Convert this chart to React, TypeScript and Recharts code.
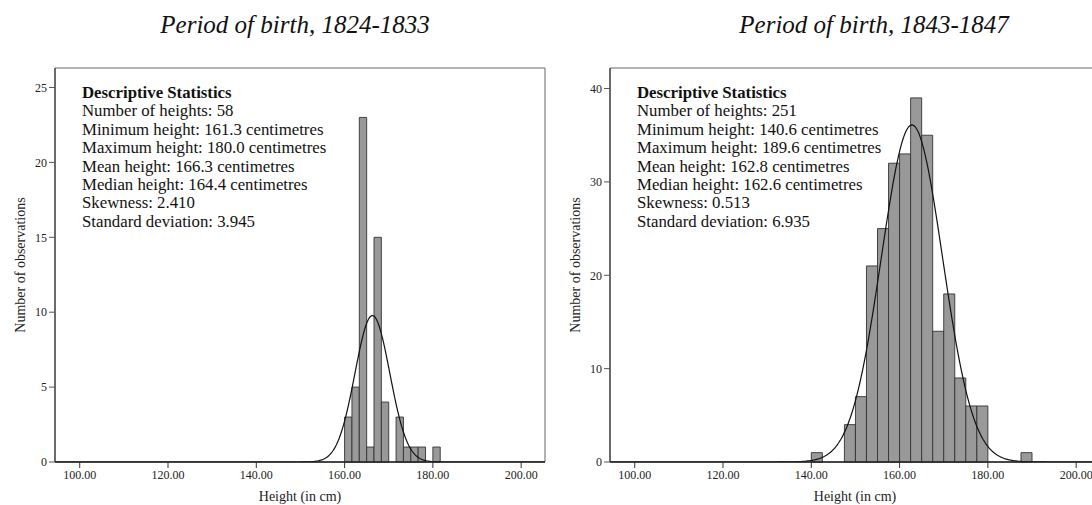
import {
  ComposedChart,
  Line,
  XAxis,
  YAxis,
  ReferenceArea,
} from 'recharts';

const SERIF = '"Liberation Serif", "Times New Roman", serif';

// x axis shared by both panels
const X_DOMAIN: [number, number] = [94.4, 205.4];
const X_TICKS = [100, 120, 140, 160, 180, 200];

// 1824-1833 cohort
const EARLY_TITLE = 'Period of birth, 1824-1833';
const EARLY_BIN_START = 160;
const EARLY_BIN_WIDTH = 5 / 3;
const EARLY_COUNTS = [3, 5, 23, 1, 15, 4, 0, 3, 1, 1, 1, 0, 1];
const EARLY_N = 58;
const EARLY_MEAN = 166.3;
const EARLY_SD = 3.945;
const EARLY_Y_TICKS = [0, 5, 10, 15, 20, 25];
const EARLY_Y_MAX = 26.3;
const EARLY_STATS = [
  'Number of heights: 58',
  'Minimum height: 161.3 centimetres',
  'Maximum height: 180.0 centimetres',
  'Mean height: 166.3 centimetres',
  'Median height: 164.4 centimetres',
  'Skewness: 2.410',
  'Standard deviation: 3.945',
];

// 1843-1847 cohort
const LATE_TITLE = 'Period of birth, 1843-1847';
const LATE_BIN_START = 140;
const LATE_BIN_WIDTH = 2.5;
const LATE_COUNTS = [1, 0, 0, 4, 7, 21, 25, 32, 33, 39, 35, 14, 18, 9, 6, 6, 0, 0, 0, 1];
const LATE_N = 251;
const LATE_MEAN = 162.8;
const LATE_SD = 6.935;
const LATE_Y_TICKS = [0, 10, 20, 30, 40];
const LATE_Y_MAX = 42.2;
const LATE_STATS = [
  'Number of heights: 251',
  'Minimum height: 140.6 centimetres',
  'Maximum height: 189.6 centimetres',
  'Mean height: 162.8 centimetres',
  'Median height: 162.6 centimetres',
  'Skewness: 0.513',
  'Standard deviation: 6.935',
];

// fitted normal curve scaled to counts per bin
function normalCurve(n: number, mean: number, sd: number, binWidth: number) {
  const pts: { x: number; y: number }[] = [];
  const k = (n * binWidth) / (sd * Math.sqrt(2 * Math.PI));
  for (let x = X_DOMAIN[0]; x <= X_DOMAIN[1] + 1e-9; x += 0.2) {
    const z = (x - mean) / sd;
    pts.push({ x, y: k * Math.exp(-0.5 * z * z) });
  }
  return pts;
}

interface PanelProps {
  left: number;
  title: string;
  titleCenter: number;
  counts: number[];
  binStart: number;
  binWidth: number;
  n: number;
  mean: number;
  sd: number;
  yTicks: number[];
  yMax: number;
  stats: string[];
}

const tickStyle = { fontFamily: SERIF, fontSize: 12, fill: '#222' };

function Panel(p: PanelProps) {
  const curve = normalCurve(p.n, p.mean, p.sd, p.binWidth);
  return (
    <>
      <div
        style={{
          position: 'absolute',
          left: p.titleCenter - 200,
          width: 400,
          top: 11,
          textAlign: 'center',
          fontFamily: SERIF,
          fontStyle: 'italic',
          fontSize: 25,
          color: '#111',
        }}
      >
        {p.title}
      </div>
      <div style={{ position: 'absolute', left: p.left, top: 0 }}>
        <ComposedChart
          width={560}
          height={505}
          data={curve}
          margin={{ top: 68, right: 15, bottom: 0, left: 0 }}
        >
          <XAxis
            dataKey="x"
            type="number"
            domain={X_DOMAIN}
            ticks={X_TICKS}
            allowDataOverflow
            tickFormatter={(v: number) => v.toFixed(2)}
            tick={tickStyle}
            tickSize={6}
            tickMargin={2}
            height={43}
            axisLine={{ stroke: '#222', strokeWidth: 1.6 }}
            tickLine={{ stroke: '#333' }}
            label={{
              value: 'Height (in cm)',
              position: 'insideBottom',
              offset: 4,
              style: { fontFamily: SERIF, fontSize: 14, fill: '#222' },
            }}
          />
          <YAxis
            type="number"
            domain={[0, p.yMax]}
            ticks={p.yTicks}
            allowDataOverflow
            tick={tickStyle}
            tickSize={6}
            tickMargin={2}
            width={55}
            axisLine={{ stroke: '#444', strokeWidth: 1.3 }}
            tickLine={{ stroke: '#555' }}
            label={{
              value: 'Number of observations',
              angle: -90,
              position: 'insideLeft',
              offset: 20,
              style: { fontFamily: SERIF, fontSize: 14, fill: '#222', textAnchor: 'middle' },
            }}
          />
          {/* plot frame */}
          <ReferenceArea
            x1={X_DOMAIN[0]}
            x2={X_DOMAIN[1]}
            y1={0}
            y2={p.yMax}
            fill="none"
            stroke="#666"
            strokeWidth={1}
            ifOverflow="visible"
          />
          {p.counts.map((c, i) =>
            c > 0 ? (
              <ReferenceArea
                key={i}
                x1={p.binStart + i * p.binWidth}
                x2={p.binStart + (i + 1) * p.binWidth}
                y1={0}
                y2={c}
                fill="#999999"
                fillOpacity={1}
                stroke="#333"
                strokeWidth={0.9}
                ifOverflow="visible"
              />
            ) : null
          )}
          <Line
            dataKey="y"
            type="linear"
            stroke="#111"
            strokeWidth={1.2}
            dot={false}
            activeDot={false}
            isAnimationActive={false}
          />
        </ComposedChart>
      </div>
      <div
        style={{
          position: 'absolute',
          left: p.left + 82,
          top: 84,
          fontFamily: SERIF,
          fontSize: 16.8,
          lineHeight: '18.4px',
          color: '#111',
          whiteSpace: 'nowrap',
        }}
      >
        <div style={{ fontWeight: 'bold' }}>Descriptive Statistics</div>
        {p.stats.map((s) => (
          <div key={s}>{s}</div>
        ))}
      </div>
    </>
  );
}

export default function App() {
  return (
    <div
      style={{
        position: 'absolute',
        left: 0,
        top: 0,
        width: 1092,
        height: 505,
        overflow: 'hidden',
        background: '#fff',
      }}
    >
      <Panel
        left={0}
        title={EARLY_TITLE}
        titleCenter={295}
        counts={EARLY_COUNTS}
        binStart={EARLY_BIN_START}
        binWidth={EARLY_BIN_WIDTH}
        n={EARLY_N}
        mean={EARLY_MEAN}
        sd={EARLY_SD}
        yTicks={EARLY_Y_TICKS}
        yMax={EARLY_Y_MAX}
        stats={EARLY_STATS}
      />
      <Panel
        left={555}
        title={LATE_TITLE}
        titleCenter={874}
        counts={LATE_COUNTS}
        binStart={LATE_BIN_START}
        binWidth={LATE_BIN_WIDTH}
        n={LATE_N}
        mean={LATE_MEAN}
        sd={LATE_SD}
        yTicks={LATE_Y_TICKS}
        yMax={LATE_Y_MAX}
        stats={LATE_STATS}
      />
    </div>
  );
}
